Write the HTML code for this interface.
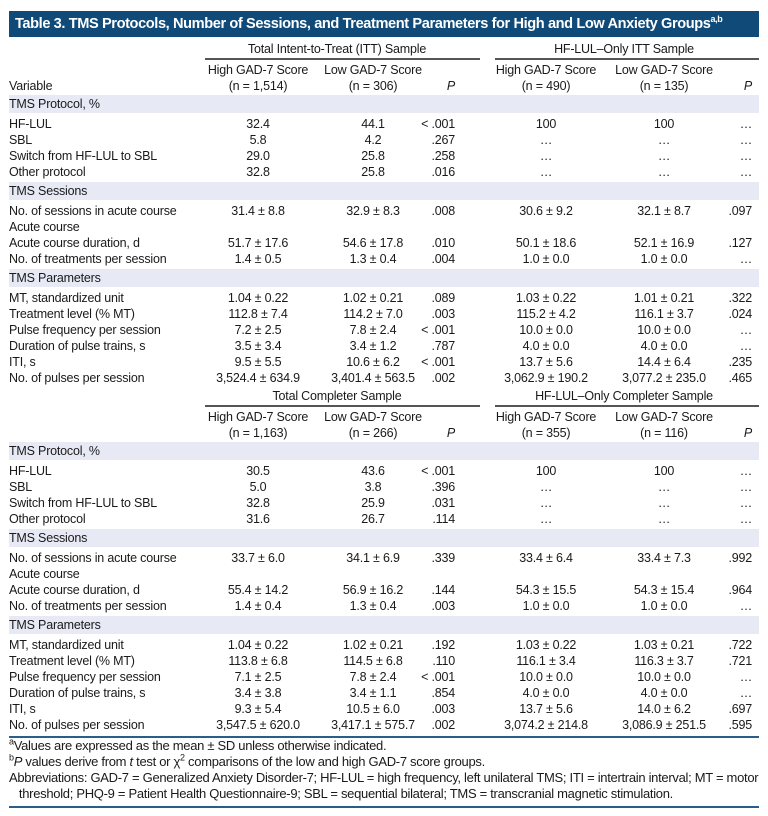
<!DOCTYPE html>
<html><head><meta charset="utf-8"><style>
body{margin:0;background:#fff;width:768px;height:816px;position:relative;overflow:hidden;font-family:"Liberation Sans",sans-serif;color:#1a1a1a;}
.t{position:absolute;font-size:12.5px;letter-spacing:-0.2px;white-space:nowrap;line-height:16px;}
.c{transform:translateX(-50%);}
.r{transform:translateX(-100%);}
.ln{position:absolute;height:1px;background:#555;}
.band{position:absolute;left:9px;width:750px;height:18px;background:#e7e9f5;}
#title{position:absolute;left:9px;top:11px;width:750px;height:26px;background:#0f4a78;color:#fff;font-weight:bold;font-size:14.6px;line-height:26px;padding-left:6px;box-sizing:border-box;letter-spacing:-0.4px;white-space:nowrap;}
sup{font-size:9px;line-height:0;}
.fn{position:absolute;left:9px;font-size:13px;letter-spacing:-0.3px;line-height:16px;white-space:nowrap;}
</style></head><body>
<div id="title">Table 3. TMS Protocols, Number of Sessions, and Treatment Parameters for High and Low Anxiety Groups<sup>a,b</sup></div>
<div id="root"></div>
<div class="ln" style="left:9px;top:736px;width:750px;background:#2b5d8a;height:1.5px"></div>
<div class="fn" style="top:738px"><sup>a</sup>Values are expressed as the mean ± SD unless otherwise indicated.</div>
<div class="fn" style="top:754px"><sup>b</sup><i>P</i> values derive from <i>t</i> test or χ<sup>2</sup> comparisons of the low and high GAD-7 score groups.</div>
<div class="fn" style="top:770px">Abbreviations: GAD-7 = Generalized Anxiety Disorder-7; HF-LUL = high frequency, left unilateral TMS; ITI = intertrain interval; MT = motor<br>&nbsp;&nbsp;&nbsp;threshold; PHQ-9 = Patient Health Questionnaire-9; SBL = sequential bilateral; TMS = transcranial magnetic stimulation.</div>
<div class="ln" style="left:9px;top:806px;width:750px;background:#2b5d8a;height:1.5px"></div>
<script>
const groupTitles1=["Total Intent-to-Treat (ITT) Sample","HF-LUL–Only ITT Sample"];
const groupTitles2=["Total Completer Sample","HF-LUL–Only Completer Sample"];
const ns1=["1,514","306","490","135"];
const ns2=["1,163","266","355","116"];
const labels=[["S","TMS Protocol, %"],["HF-LUL"],["SBL"],["Switch from HF-LUL to SBL"],["Other protocol"],["S","TMS Sessions"],["No. of sessions in acute course"],["Acute course"],["Acute course duration, d"],["No. of treatments per session"],["S","TMS Parameters"],["MT, standardized unit"],["Treatment level (% MT)"],["Pulse frequency per session"],["Duration of pulse trains, s"],["ITI, s"],["No. of pulses per session"]];
const vals1=[null,["32.4","44.1","<.001","100","100","…"],["5.8","4.2",".267","…","…","…"],["29.0","25.8",".258","…","…","…"],["32.8","25.8",".016","…","…","…"],null,["31.4 ± 8.8","32.9 ± 8.3",".008","30.6 ± 9.2","32.1 ± 8.7",".097"],["","","","","",""],["51.7 ± 17.6","54.6 ± 17.8",".010","50.1 ± 18.6","52.1 ± 16.9",".127"],["1.4 ± 0.5","1.3 ± 0.4",".004","1.0 ± 0.0","1.0 ± 0.0","…"],null,["1.04 ± 0.22","1.02 ± 0.21",".089","1.03 ± 0.22","1.01 ± 0.21",".322"],["112.8 ± 7.4","114.2 ± 7.0",".003","115.2 ± 4.2","116.1 ± 3.7",".024"],["7.2 ± 2.5","7.8 ± 2.4","<.001","10.0 ± 0.0","10.0 ± 0.0","…"],["3.5 ± 3.4","3.4 ± 1.2",".787","4.0 ± 0.0","4.0 ± 0.0","…"],["9.5 ± 5.5","10.6 ± 6.2","<.001","13.7 ± 5.6","14.4 ± 6.4",".235"],["3,524.4 ± 634.9","3,401.4 ± 563.5",".002","3,062.9 ± 190.2","3,077.2 ± 235.0",".465"]];
const vals2=[null,["30.5","43.6","<.001","100","100","…"],["5.0","3.8",".396","…","…","…"],["32.8","25.9",".031","…","…","…"],["31.6","26.7",".114","…","…","…"],null,["33.7 ± 6.0","34.1 ± 6.9",".339","33.4 ± 6.4","33.4 ± 7.3",".992"],["","","","","",""],["55.4 ± 14.2","56.9 ± 16.2",".144","54.3 ± 15.5","54.3 ± 15.4",".964"],["1.4 ± 0.4","1.3 ± 0.4",".003","1.0 ± 0.0","1.0 ± 0.0","…"],null,["1.04 ± 0.22","1.02 ± 0.21",".192","1.03 ± 0.22","1.03 ± 0.21",".722"],["113.8 ± 6.8","114.5 ± 6.8",".110","116.1 ± 3.4","116.3 ± 3.7",".721"],["7.1 ± 2.5","7.8 ± 2.4","<.001","10.0 ± 0.0","10.0 ± 0.0","…"],["3.4 ± 3.8","3.4 ± 1.1",".854","4.0 ± 0.0","4.0 ± 0.0","…"],["9.3 ± 5.4","10.5 ± 6.0",".003","13.7 ± 5.6","14.0 ± 6.2",".697"],["3,547.5 ± 620.0","3,417.1 ± 575.7",".002","3,074.2 ± 214.8","3,086.9 ± 251.5",".595"]];
const colX=[258,373,455,546,664,752];
const colAlign=["c","c","r","c","c","r"];
const root=document.getElementById('root');
function txt(x,y,s,cls,name){
  const d=document.createElement('div');
  d.className='t '+(cls||'');
  d.style.left=x+'px';d.style.top=(y-8)+'px';
  d.innerHTML=s;
  
  
  root.appendChild(d);return d;
}
function line(x,y,w,h,name){
  const d=document.createElement('div');d.className='ln';
  d.style.left=x+'px';d.style.top=y+'px';d.style.width=w+'px';d.style.height=(h||1)+'px';
  
  
  root.appendChild(d);
}
function block(top,titles,ns,vals,showVar,prefix){
  txt(337,top,titles[0],'c',prefix+'-group-title-all');
  txt(624,top,titles[1],'c',prefix+'-group-title-hflul');
  line(205,top+9,275,1.5,prefix+'-group-rule-all');
  line(495,top+9,264,1.5,prefix+'-group-rule-hflul');
  const hy=top+21, ny=top+37;
  [0,1,3,4].forEach((ci,k)=>{
    txt(colX[ci],hy,(k%2==0?'High':'Low')+' GAD-7 Score','c',prefix+'-col-header');
    txt(colX[ci],ny,'(n = '+ns[k]+')','c',prefix+'-col-n');
  });
  txt(colX[2],ny,'<i>P</i>','r',prefix+'-p-header');
  txt(colX[5],ny,'<i>P</i>','r',prefix+'-p-header');
  if(showVar) txt(9,ny,'Variable','',prefix+'-variable-header');
  line(9,top+46,750,1.5,prefix+'-header-rule');
  let y=top+55;
  labels.forEach((lb,i)=>{
    if(lb[0]==='S'){
      if(i>0) y+=3;
      const b=document.createElement('div');b.className='band';b.style.top=(y-9)+'px';
      
      
      root.appendChild(b);
      txt(9,y,lb[1],'',prefix+'-section-label');
      y+=20;
    } else {
      txt(9,y,lb[0],'',prefix+'-row-label');
      vals[i].forEach((v,j)=>{ if(v) txt(colX[j],y,v.replace('<','&lt; '),colAlign[j],prefix+'-cell'); });
      y+=16;
    }
  });
}
block(49,groupTitles1,ns1,vals1,true,'itt');
block(396,groupTitles2,ns2,vals2,false,'completer');
</script>
</body></html>
